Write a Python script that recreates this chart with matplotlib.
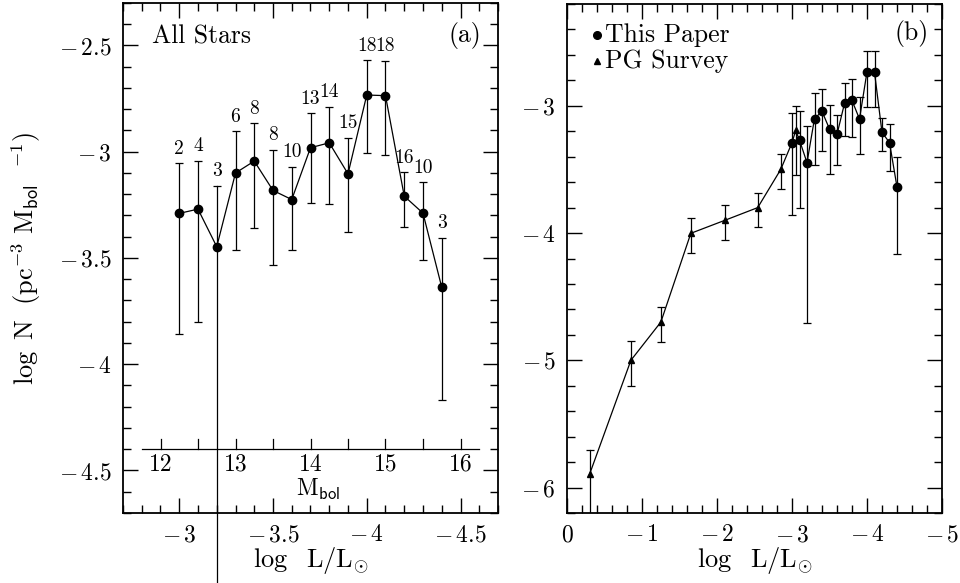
import numpy as np
import matplotlib
matplotlib.use("Agg")
import matplotlib.pyplot as plt
from matplotlib.ticker import MultipleLocator, FuncFormatter

plt.rcParams['font.family'] = ['cmr10', 'DejaVu Serif']
plt.rcParams['mathtext.fontset'] = 'cm'
plt.rcParams['axes.formatter.use_mathtext'] = True
plt.rcParams['axes.unicode_minus'] = True

# ---- data: this paper (both panels) ----
logl = [-3.0, -3.1, -3.2, -3.3, -3.4, -3.5, -3.6, -3.7, -3.8, -3.9, -4.0, -4.1, -4.2, -4.3, -4.4]
logn = [-3.29, -3.27, -3.447, -3.10, -3.044, -3.182, -3.225, -2.981, -2.958, -3.104, -2.733, -2.736, -3.209, -3.289, -3.638]
logn_hi = [-3.055, -3.042, -3.159, -2.903, -2.865, -2.992, -3.072, -2.818, -2.788, -2.934, -2.569, -2.573, -3.096, -3.143, -3.405]
logn_lo = [-3.857, -3.80, -4.71, -3.463, -3.358, -3.534, -3.463, -3.24, -3.244, -3.376, -3.008, -3.013, -3.353, -3.51, -4.167]
counts = ['2', '4', '3', '6', '8', '8', '10', '13', '14', '15', '18', '18', '16', '10', '3']
# in panel (a) the lower bar of the third bin runs off the plot
open_lower_index = 2
open_lower_value = -5.2

# ---- data: PG survey ----
pg_logl = [-0.30, -0.852, -1.252, -1.651, -2.104, -2.543, -2.85, -3.049]
pg_logn = [-5.897, -5.0, -4.699, -4.002, -3.90, -3.80, -3.50, -3.194]
pg_hi = [-5.706, -4.852, -4.583, -3.882, -3.783, -3.686, -3.382, -3.005]
pg_lo = [-6.5, -5.203, -4.86, -4.154, -4.052, -3.953, -3.652, -3.547]

mbol_ticks = [12, 12.5, 13, 13.5, 14, 14.5, 15, 15.5, 16]
mbol_labels = ['12', '13', '14', '15', '16']
mbol_span = [11.75, 16.25]
mbol_axis_logn = -4.4


def mbol_to_logl(m):
    return (4.75 - np.asarray(m, dtype=float)) / 2.5


def fmt(v, pos=None):
    s = '%g' % v
    if s.startswith('-'):
        return r'$-\,$' + s[1:]
    return s


fig = plt.figure(figsize=(9.6, 5.83), dpi=100)
W, H = 960.0, 583.0
axa = fig.add_axes([123 / W, 1 - 513 / H, (498 - 123) / W, (513 - 3) / H])
axb = fig.add_axes([567 / W, 1 - 513 / H, (942 - 567) / W, (513 - 4) / H])

lw = 0.9
TXT = 18.5
x = np.array(logl)
y = np.array(logn)
hi = np.array(logn_hi)
lo = np.array(logn_lo)

# ---------------- panel (a) ----------------
lo_a = lo.copy()
lo_a[open_lower_index] = open_lower_value
capped = np.ones(len(x), bool)
capped[open_lower_index] = False
axa.errorbar(x[capped], y[capped], yerr=[y[capped] - lo_a[capped], hi[capped] - y[capped]],
             fmt='none', ecolor='black', elinewidth=lw, capsize=3, capthick=lw)
i = open_lower_index
axa.plot([x[i], x[i]], [lo_a[i], hi[i]], color='black', lw=lw, clip_on=False, zorder=2)
axa.plot([x[i]], [hi[i]], marker='_', ms=6, mew=lw, color='black')
axa.plot(x, y, '-', color='black', lw=lw, marker='o', ms=6, zorder=3)
for xi, hv, c in zip(x, hi, counts):
    axa.annotate(c, (xi, hv), xytext=(0, 4), textcoords='offset points',
                 ha='center', va='bottom', fontsize=14)

# inner M_bol axis
span = mbol_to_logl(mbol_span)
axa.plot(span, [mbol_axis_logn] * 2, color='black', lw=lw)
tick_h = 0.047
for m in mbol_ticks:
    lx = mbol_to_logl(m)
    axa.plot([lx, lx], [mbol_axis_logn, mbol_axis_logn + tick_h], color='black', lw=lw)
for lab in mbol_labels:
    axa.annotate(lab, (mbol_to_logl(float(lab)), mbol_axis_logn), xytext=(0, -3),
                 textcoords='offset points', ha='center', va='top', fontsize=17)
axa.annotate(r'$\mathrm{M}_{\mathsf{bol}}$', (mbol_to_logl(14.1), mbol_axis_logn),
             xytext=(0, -20), textcoords='offset points', ha='center', va='top', fontsize=17)

axa.set_xlim(-2.7, -4.7)
axa.set_ylim(-4.7, -2.3)
axa.xaxis.set_major_locator(MultipleLocator(0.5))
axa.xaxis.set_minor_locator(MultipleLocator(0.1))
axa.yaxis.set_major_locator(MultipleLocator(0.5))
axa.yaxis.set_minor_locator(MultipleLocator(0.1))
axa.text(0.077, 0.935, 'All Stars', transform=axa.transAxes, fontsize=TXT, ha='left', va='center')
axa.text(0.912, 0.937, '(a)', transform=axa.transAxes, fontsize=TXT, ha='center', va='center')
axa.set_ylabel(r'$\log\ \mathrm{N}\ \ (\mathrm{pc}^{-3}\ \mathrm{M}_{\mathsf{bol}}\ \ ^{-1})$', fontsize=19, labelpad=12)

# ---------------- panel (b) ----------------
px = np.array(pg_logl)
py = np.array(pg_logn)
phi = np.array(pg_hi)
plo = np.array(pg_lo)
axb.errorbar(px[1:], py[1:], yerr=[py[1:] - plo[1:], phi[1:] - py[1:]], fmt='none',
             ecolor='black', elinewidth=lw, capsize=3, capthick=lw)
axb.plot([px[0], px[0]], [plo[0], phi[0]], color='black', lw=lw)
axb.plot([px[0]], [phi[0]], marker='_', ms=6, mew=lw, color='black')
axb.errorbar(x, y, yerr=[y - lo, hi - y], fmt='none', ecolor='black',
             elinewidth=lw, capsize=3, capthick=lw)
allx = np.concatenate([px, x])
ally = np.concatenate([py, y])
order = np.argsort(-allx)
axb.plot(allx[order], ally[order], '-', color='black', lw=lw)
axb.plot(px, py, '^', color='black', ms=4.5, ls='none', zorder=3)
axb.plot(x, y, 'o', color='black', ms=6, ls='none', zorder=3)

axb.set_xlim(0, -5)
axb.set_ylim(-6.2, -2.2)
axb.xaxis.set_major_locator(MultipleLocator(1))
axb.xaxis.set_minor_locator(MultipleLocator(0.2))
axb.yaxis.set_major_locator(MultipleLocator(1))
axb.yaxis.set_minor_locator(MultipleLocator(0.2))
axb.plot([0.08], [0.939], 'o', color='black', ms=5.5, transform=axb.transAxes)
axb.plot([0.08], [0.888], '^', color='black', ms=4.5, transform=axb.transAxes)
axb.text(0.101, 0.939, 'This Paper', transform=axb.transAxes, fontsize=TXT, ha='left', va='center')
axb.text(0.101, 0.888, 'PG Survey', transform=axb.transAxes, fontsize=TXT, ha='left', va='center')
axb.text(0.92, 0.943, '(b)', transform=axb.transAxes, fontsize=TXT, ha='center', va='center')

for ax in (axa, axb):
    ax.set_xlabel(r'$\log\ \ \mathrm{L/L}_{\odot}$', fontsize=19)
    ax.xaxis.label.set_verticalalignment('center')
    ax.xaxis.set_label_coords(0.5, -48 / 510.0)
    ax.xaxis.set_major_formatter(FuncFormatter(fmt))
    ax.yaxis.set_major_formatter(FuncFormatter(fmt))
    ax.tick_params(which='both', direction='in', top=True, right=True, labelsize=17, width=1)
    ax.tick_params(which='major', length=11, pad=8)
    ax.tick_params(which='minor', length=6)
    for s in ax.spines.values():
        s.set_linewidth(1.3)

fig.savefig('out.png', dpi=100)
